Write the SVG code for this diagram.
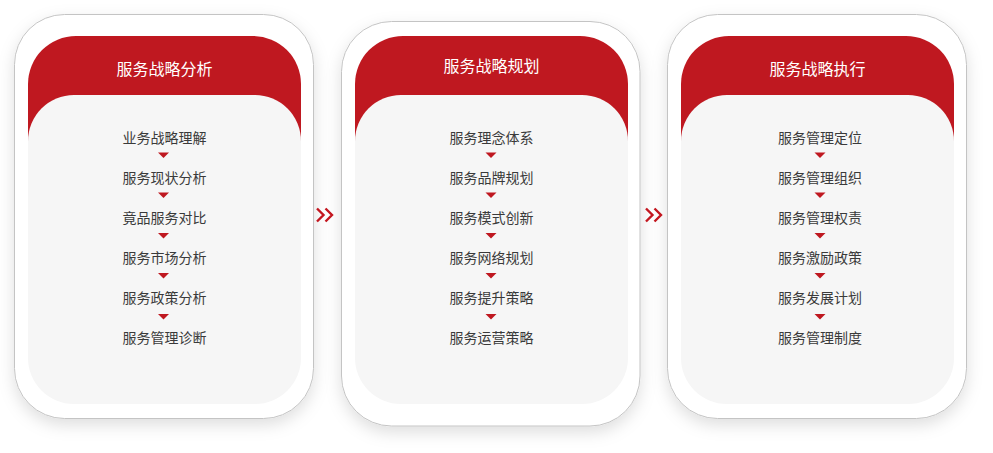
<svg xmlns="http://www.w3.org/2000/svg" width="993" height="453" viewBox="0 0 993 453">
<defs>
<filter id="sh" x="-20%" y="-20%" width="140%" height="140%">
<feDropShadow dx="0" dy="6" stdDeviation="8" flood-color="#000" flood-opacity="0.13"/>
</filter>
<style>
.card{fill:#fff;stroke:#c4c4c4;stroke-width:1;filter:url(#sh)}
.head{fill:#bf1820}
.body{fill:#f6f6f6}
.title{font-family:"Noto Sans CJK SC","Noto Sans",sans-serif;font-size:16px;fill:#fff;text-anchor:middle;dominant-baseline:central}
.item{font-family:"Noto Sans CJK SC","Noto Sans",sans-serif;font-size:14px;fill:#3a3a3a;text-anchor:middle;dominant-baseline:central}
.tri{fill:#bf1820}
.chev{fill:none;stroke:#c3161f;stroke-width:2.4}
</style>
<path id="t" d="M-5.5,0 L5.5,0 L0,5.5 Z"/>
</defs>
<rect width="993" height="453" fill="#fff"/>

<g id="node-analysis">
<rect class="card" x="14.5" y="14.5" width="299" height="404" rx="50"/>
<path class="head" d="M28,150 V84 A48,48 0 0 1 76,36 H253 A48,48 0 0 1 301,84 V150 Z"/>
<rect class="body" x="28" y="95" width="273" height="309" rx="46"/>
<text class="title" x="164.5" y="68">服务战略分析</text>
<text class="item" x="164.5" y="137">业务战略理解</text>
<use href="#t" class="tri" x="163.5" y="152.5"/>
<text class="item" x="164.5" y="177">服务现状分析</text>
<use href="#t" class="tri" x="163.5" y="192.5"/>
<text class="item" x="164.5" y="217">竟品服务对比</text>
<use href="#t" class="tri" x="163.5" y="233"/>
<text class="item" x="164.5" y="257">服务市场分析</text>
<use href="#t" class="tri" x="163.5" y="273"/>
<text class="item" x="164.5" y="297">服务政策分析</text>
<use href="#t" class="tri" x="163.5" y="314"/>
<text class="item" x="164.5" y="337">服务管理诊断</text>
</g>

<g id="node-planning">
<rect class="card" x="341.5" y="21.5" width="298.5" height="404.5" rx="50"/>
<path class="head" d="M355,150 V84 A48,48 0 0 1 403,36 H580 A48,48 0 0 1 628,84 V150 Z"/>
<rect class="body" x="355" y="95" width="273" height="309" rx="46"/>
<text class="title" x="491.5" y="65">服务战略规划</text>
<text class="item" x="491.5" y="137">服务理念体系</text>
<use href="#t" class="tri" x="491" y="152.5"/>
<text class="item" x="491.5" y="177">服务品牌规划</text>
<use href="#t" class="tri" x="491" y="192.5"/>
<text class="item" x="491.5" y="217">服务模式创新</text>
<use href="#t" class="tri" x="491" y="233"/>
<text class="item" x="491.5" y="257">服务网络规划</text>
<use href="#t" class="tri" x="491" y="273"/>
<text class="item" x="491.5" y="297">服务提升策略</text>
<use href="#t" class="tri" x="491" y="314"/>
<text class="item" x="491.5" y="337">服务运营策略</text>
</g>

<g id="node-execution">
<rect class="card" x="667.5" y="14.5" width="299" height="404" rx="50"/>
<path class="head" d="M681,150 V84 A48,48 0 0 1 729,36 H906 A48,48 0 0 1 954,84 V150 Z"/>
<rect class="body" x="681" y="95" width="273" height="309" rx="46"/>
<text class="title" x="817.5" y="68">服务战略执行</text>
<text class="item" x="820" y="137">服务管理定位</text>
<use href="#t" class="tri" x="820" y="152.5"/>
<text class="item" x="820" y="177">服务管理组织</text>
<use href="#t" class="tri" x="820" y="192.5"/>
<text class="item" x="820" y="217">服务管理权责</text>
<use href="#t" class="tri" x="820" y="233"/>
<text class="item" x="820" y="257">服务激励政策</text>
<use href="#t" class="tri" x="820" y="273"/>
<text class="item" x="820" y="297">服务发展计划</text>
<use href="#t" class="tri" x="820" y="314"/>
<text class="item" x="820" y="337">服务管理制度</text>
</g>

<g id="connectors">
<polyline class="chev" points="317,208.5 323.5,215 317,221.5"/>
<polyline class="chev" points="325.5,208.5 332,215 325.5,221.5"/>
<polyline class="chev" points="646,208.5 652.5,215 646,221.5"/>
<polyline class="chev" points="654.5,208.5 661,215 654.5,221.5"/>
</g>
</svg>
